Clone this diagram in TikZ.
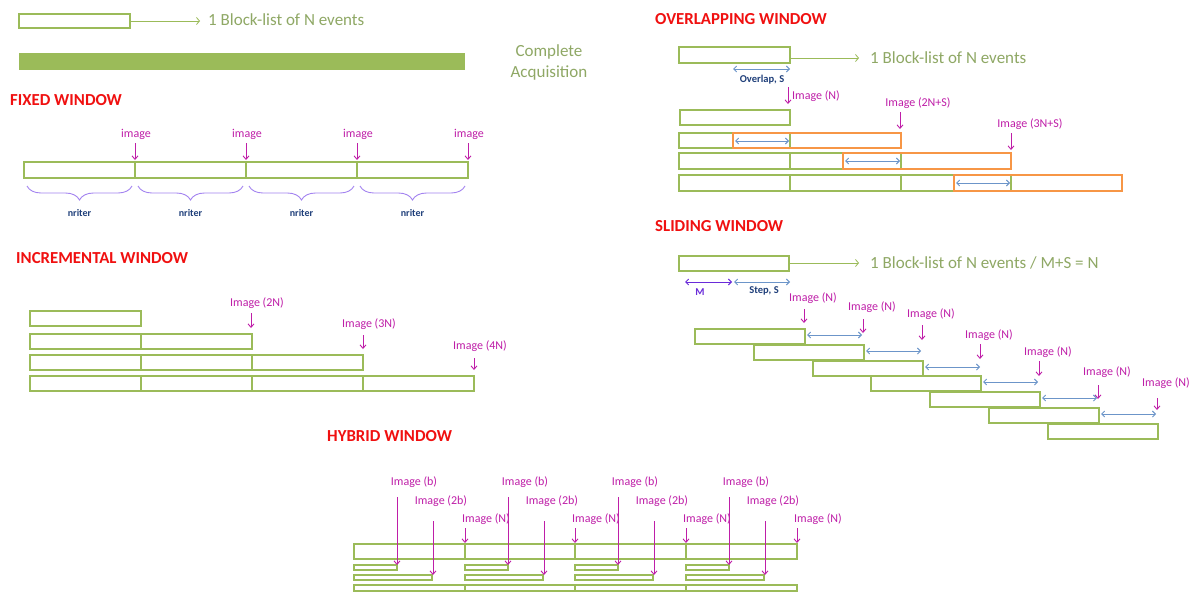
\documentclass[tikz,border=0pt]{standalone}
\usepackage{fontspec}
\setmainfont{Carlito}
\usetikzlibrary{arrows.meta,decorations.pathreplacing}
\definecolor{grn}{HTML}{9BBB59}
\definecolor{txg}{HTML}{8FA865}
\definecolor{mag}{HTML}{BF1EA8}
\definecolor{ttlred}{HTML}{F01010}
\definecolor{brc}{HTML}{A383F0}
\definecolor{dkb}{HTML}{1F3F7A}
\definecolor{blu}{HTML}{6C95C9}
\definecolor{org}{HTML}{F79646}
\definecolor{prp}{HTML}{6A2BD9}
\newcommand\rb[5][grn]{\draw[blk,draw=#1] (#2,#3) rectangle (#4,#5);}
\begin{document}
\begin{tikzpicture}[x=1pt,y=-1pt,
  blk/.style={line width=1.9pt},
  ttl/.style={text=ttlred,font=\bfseries\fontsize{16.8}{16.8}\selectfont,anchor=west,inner sep=0},
  leg/.style={text=txg,font=\fontsize{17}{21}\selectfont,inner sep=0},
  lbl/.style={text=mag,font=\fontsize{12}{12}\selectfont,inner sep=0},
  sm/.style={text=dkb,font=\bfseries\fontsize{10.5}{10.5}\selectfont,inner sep=0},
  dn/.style={draw=mag,line width=0.9pt,-{Straight Barb[length=3.5pt,width=6pt]}},
  dbl/.style={draw=blu,line width=0.9pt,{Straight Barb[length=3pt,width=6pt]}-{Straight Barb[length=3pt,width=6pt]}},
  garr/.style={draw=grn,line width=0.8pt,-{Straight Barb[length=3pt,width=7pt]}},
  brace/.style={draw=brc,line width=0.9pt,decorate,decoration={brace,mirror,amplitude=14pt,aspect=0.5}}]
\useasboundingbox (0,0) rectangle (1190,592);
\fill[white] (0,0) rectangle (1190,592);
% legend
\rb{19}{14}{130}{28}
\coordinate (la) at (130,21);
\node[leg,anchor=west] (legt) at (208,20) {1 Block-list of N events};
\draw[garr] (la) -- (200,21);
\fill[grn] (19,53) rectangle (465,70);
\node[leg,align=center] (compl) at (549,62) {Complete\\Acquisition};
% fixed window
\node[ttl] (fixt) at (10,100) {FIXED WINDOW};
\foreach \i in {0,1,2,3} {
  \pgfmathsetmacro{\xa}{24+111*\i}
  \pgfmathsetmacro{\xb}{\xa+111}
  \draw[blk,draw=grn] (\xa,162) rectangle (\xb,178);
  \node[lbl] (fimg\i) at (\xb+1,134) {image};
  \draw[dn] (\xb,143) -- (\xb,160);
  \draw[brace] (\xa+3,186) -- (\xb-3,186);
  \node[sm,font=\fontsize{10}{10}\selectfont\bfseries] (fn\i) at ({(\xa+\xb)/2},213) {nriter};
}
% incremental window
\node[ttl] (inct) at (16,258) {INCREMENTAL WINDOW};
\rb{30}{311}{141}{326}
\foreach \i in {0,1} {\draw[blk,draw=grn] ({30+111*\i},334) rectangle ({141+111*\i},349);}
\foreach \i in {0,1,2} {\draw[blk,draw=grn] ({30+111*\i},355) rectangle ({141+111*\i},370);}
\foreach \i in {0,1,2,3} {\draw[blk,draw=grn] ({30+111*\i},376) rectangle ({141+111*\i},391);}
\node[lbl] (i2) at (257,303) {Image (2N)};
\draw[dn] (251,313) -- (251,328);
\node[lbl] (i3) at (369,324) {Image (3N)};
\draw[dn] (363,335) -- (363,349);
\node[lbl] (i4) at (480,346) {Image (4N)};
\draw[dn] (474,358) -- (474,370);
% overlapping window
\node[ttl] (ovt) at (655,19) {OVERLAPPING WINDOW};
\rb{679}{47}{790}{63}
\node[leg,anchor=west] (ovl) at (870,58) {1 Block-list of N events};
\draw[garr] (790,58) -- (859,58);
\draw[dbl] (733,69) -- (790,69);
\node[sm] (ovs) at (762,80) {Overlap, S};
\draw[dn] (788,87) -- (788,104);
\node[lbl,anchor=west] (on1) at (792,96) {Image (N)};
\node[lbl] (on2) at (918,103) {Image (2N+S)};
\draw[dn] (900,112) -- (900,129);
\node[lbl] (on3) at (1030,124) {Image (3N+S)};
\draw[dn] (1011,133) -- (1011,150);
\rb{680}{110}{790}{125}
\rb{679}{133}{790}{148}
\rb[org]{733}{133}{901}{148}
\draw[dbl] (735,141) -- (789,141);
\rb{679}{153}{790}{169}
\rb{790}{153}{901}{169}
\rb[org]{843}{153}{1011}{169}
\draw[dbl] (845,161) -- (900,161);
\rb{679}{175}{790}{191}
\rb{790}{175}{901}{191}
\rb{901}{175}{1011}{191}
\rb[org]{954}{175}{1122}{191}
\draw[dbl] (956,183) -- (1010,183);
% sliding window
\node[ttl] (slt) at (655,226) {SLIDING WINDOW};
\rb{679}{256}{789}{271}
\node[leg,anchor=west] (sll) at (870,263) {1 Block-list of N events / M+S = N};
\draw[garr] (789,263) -- (859,263);
\draw[dbl,draw=prp] (685,282) -- (732,282);
\node[sm,text=prp] (slm) at (700,292) {M};
\draw[dbl] (734,282) -- (790,282);
\node[sm] (sls) at (764,291) {Step, S};
\foreach \i/\ly/\ay/\by in {0/298/309/323, 1/307/319/333, 2/314/325/340, 3/335/344/359, 4/352/361/376, 5/372/385/399, 6/383/398/410} {
  \pgfmathsetmacro{\xa}{round(695+58.8*\i)}
  \pgfmathsetmacro{\xb}{\xa+110}
  \pgfmathsetmacro{\ya}{round(329+15.83*\i)}
  \draw[blk,draw=grn] (\xa,\ya) rectangle (\xb,\ya+15);
  \node[lbl] (sn\i) at (\xb+8,\ly) {Image (N)};
  \draw[dn] (\xb-1,\ay) -- (\xb-1,\by);
}
\foreach \i in {0,...,5} {
  \pgfmathsetmacro{\xb}{round(695+58.8*\i)+110}
  \pgfmathsetmacro{\ya}{round(329+15.83*\i)+6}
  \draw[dbl] (\xb+2,\ya) -- (\xb+57,\ya);
}
% hybrid window
\node[ttl] (hyt) at (327,436) {HYBRID WINDOW};
\foreach \i in {0,1,2,3} {
  \pgfmathsetmacro{\xa}{round(354+110.7*\i)}
  \pgfmathsetmacro{\xb}{round(354+110.7*(\i+1))}
  \draw[blk,draw=grn] (\xa,544) rectangle (\xb,559);
  \draw[blk,draw=grn,line width=1.4pt] (\xa,565) rectangle (\xa+43,570);
  \draw[blk,draw=grn,line width=1.4pt] (\xa,575) rectangle (\xa+78,580);
  \draw[blk,draw=grn,line width=1.4pt] (\xa,585) rectangle (\xb,591);
  \node[lbl] (hb\i) at (\xa+60,482) {Image (b)};
  \draw[dn] (\xa+43,497) -- (\xa+43,565);
  \node[lbl] (h2b\i) at (\xa+87,501) {Image (2b)};
  \draw[dn] (\xa+79,521) -- (\xa+79,575);
  \node[lbl] (hn\i) at (\xb+21,519) {Image (N)};
  \draw[dn] (\xb,528) -- (\xb,543);
}
\end{tikzpicture}
\end{document}
